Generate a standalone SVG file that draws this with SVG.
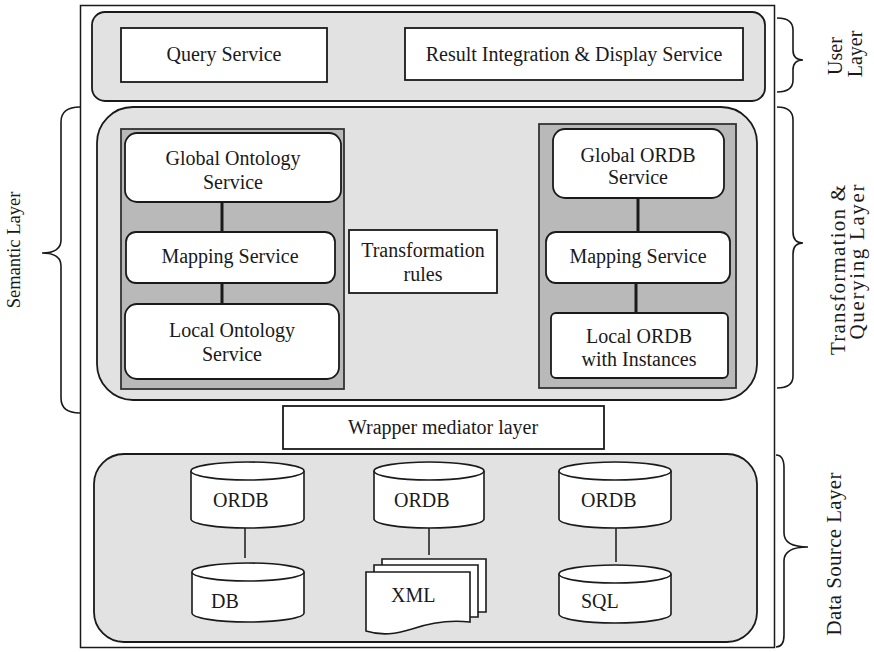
<svg xmlns="http://www.w3.org/2000/svg" width="874" height="652" viewBox="0 0 874 652">
  <style>
    text { font-family: "Liberation Serif", "Times New Roman", serif; font-size: 20px; fill: #1a1a1a; }
    .mid { text-anchor: middle; }
    .side { font-size: 21px; }
    .frame { fill: #ffffff; stroke: #1a1a1a; stroke-width: 1.5; }
    .layer { fill: #e2e2e2; stroke: #1a1a1a; stroke-width: 1.8; }
    .column { fill: #b9b9b9; stroke: #333333; stroke-width: 1.8; }
    .box { fill: #ffffff; stroke: #1a1a1a; stroke-width: 1.8; }
    .link { stroke: #1a1a1a; stroke-width: 3; fill: none; }
    .thin { stroke: #1a1a1a; stroke-width: 1.5; fill: none; }
    .brace { stroke: #1a1a1a; stroke-width: 1.6; fill: none; }
    .cyl { fill: #ffffff; stroke: #1a1a1a; stroke-width: 1.6; }
  </style>

  <rect width="874" height="652" fill="#ffffff"/>

  <!-- outer frame -->
  <rect class="frame" x="80.5" y="5.5" width="694" height="642"/>

  <!-- layer panels -->
  <rect class="layer" x="92" y="12" width="673" height="89" rx="13"/>
  <rect class="layer" x="97" y="107" width="660" height="293" rx="36"/>
  <rect class="layer" x="94" y="454" width="663" height="188" rx="30"/>

  <!-- service columns -->
  <rect class="column" x="121" y="129" width="223" height="260"/>
  <rect class="column" x="539" y="124" width="197" height="264"/>

  <!-- connectors -->
  <g id="connectors">
    <line class="link" x1="222" y1="202" x2="222" y2="232"/>
    <line class="link" x1="222" y1="283" x2="222" y2="305"/>
    <line class="link" x1="638" y1="198" x2="638" y2="232"/>
    <line class="link" x1="636" y1="283" x2="636" y2="313"/>
    <line class="thin" x1="245" y1="528" x2="245" y2="558"/>
    <line class="thin" x1="429" y1="528" x2="429" y2="555"/>
    <line class="thin" x1="616" y1="528" x2="616" y2="562"/>
  </g>

  <!-- user layer -->
  <g id="query-service">
    <rect class="box" x="121" y="28" width="206" height="54"/>
    <text class="mid" x="224" y="61">Query Service</text>
  </g>
  <g id="result-service">
    <rect class="box" x="405" y="28" width="338" height="52"/>
    <text class="mid" x="574" y="61">Result Integration &amp; Display Service</text>
  </g>

  <!-- ontology column -->
  <g id="global-ontology">
    <rect class="box" x="125" y="133" width="216" height="69" rx="12"/>
    <text class="mid" x="233" y="165">Global Ontology</text>
    <text class="mid" x="233" y="189">Service</text>
  </g>
  <g id="mapping-left">
    <rect class="box" x="126" y="232" width="209" height="51" rx="10"/>
    <text class="mid" x="230" y="263">Mapping Service</text>
  </g>
  <g id="local-ontology">
    <rect class="box" x="125" y="304" width="214" height="75" rx="12"/>
    <text class="mid" x="232" y="337">Local Ontology</text>
    <text class="mid" x="232" y="361">Service</text>
  </g>

  <g id="transformation-rules">
    <rect class="box" x="349" y="230" width="148" height="63"/>
    <text class="mid" x="423" y="257">Transformation</text>
    <text class="mid" x="423" y="281">rules</text>
  </g>

  <!-- ORDB column -->
  <g id="global-ordb">
    <rect class="box" x="553" y="129" width="171" height="69" rx="12"/>
    <text class="mid" x="638" y="162">Global ORDB</text>
    <text class="mid" x="638" y="184">Service</text>
  </g>
  <g id="mapping-right">
    <rect class="box" x="546" y="232" width="184" height="51" rx="10"/>
    <text class="mid" x="638" y="263">Mapping Service</text>
  </g>
  <g id="local-ordb">
    <rect class="box" x="551" y="313" width="177" height="65" rx="5"/>
    <text class="mid" x="639" y="343">Local ORDB</text>
    <text class="mid" x="639" y="366">with Instances</text>
  </g>

  <g id="wrapper">
    <rect class="box" x="283" y="406" width="321" height="43"/>
    <text class="mid" x="443" y="434">Wrapper mediator layer</text>
  </g>

  <!-- data sources -->
  <g id="ordb-1">
    <path class="cyl" d="M191,471 A56.5,9 0 0 1 304,471 V519 A56.5,9 0 0 1 191,519 Z"/>
    <path class="cyl" fill="none" d="M191,471 A56.5,9 0 0 0 304,471"/>
    <text x="213" y="507">ORDB</text>
  </g>
  <g id="db">
    <path class="cyl" d="M192,572 A56,9 0 0 1 304,572 V613 A56,9 0 0 1 192,613 Z"/>
    <path class="cyl" fill="none" d="M192,572 A56,9 0 0 0 304,572"/>
    <text x="211" y="608">DB</text>
  </g>
  <g id="ordb-2">
    <path class="cyl" d="M374,471 A55,9 0 0 1 484,471 V519 A55,9 0 0 1 374,519 Z"/>
    <path class="cyl" fill="none" d="M374,471 A55,9 0 0 0 484,471"/>
    <text x="394" y="507">ORDB</text>
  </g>
  <g id="xml">
    <path class="cyl" d="M382,559 H486 V612 H382 Z"/>
    <path class="cyl" d="M374,565 H478 V617 H374 Z"/>
    <path class="cyl" d="M366,572 H470 V622 C452,620 432,622 412,629 C396,634 382,636 366,631 Z"/>
    <text x="391" y="602">XML</text>
  </g>
  <g id="ordb-3">
    <path class="cyl" d="M559,471 A56,9 0 0 1 671,471 V519 A56,9 0 0 1 559,519 Z"/>
    <path class="cyl" fill="none" d="M559,471 A56,9 0 0 0 671,471"/>
    <text x="581" y="507">ORDB</text>
  </g>
  <g id="sql">
    <path class="cyl" d="M559,574 A56,9 0 0 1 671,574 V614 A56,9 0 0 1 559,614 Z"/>
    <path class="cyl" fill="none" d="M559,574 A56,9 0 0 0 671,574"/>
    <text x="581" y="608">SQL</text>
  </g>

  <!-- layer braces -->
  <g id="brace-semantic">
    <path class="brace" d="M80,107 Q61,107 61,122 V240 Q61,253 42,253 Q61,253 61,266 V398 Q61,413 80,413"/>
    <text class="mid" style="font-size:18.5px" transform="translate(20,250) rotate(-90)">Semantic Layer</text>
  </g>
  <g id="brace-user">
    <path class="brace" d="M777,18 Q793,18 793,30 V50 Q793,60 803,60 Q793,60 793,70 V80 Q793,92 777,92"/>
    <text class="mid" transform="translate(842,56) rotate(-90)">User</text>
    <text class="mid" transform="translate(862,54) rotate(-90)">Layer</text>
  </g>
  <g id="brace-transformation">
    <path class="brace" d="M777,107 Q793,107 793,120 V232 Q793,243 803,243 Q793,243 793,254 V376 Q793,388 777,388"/>
    <text class="mid side" transform="translate(845,270) rotate(-90)" textLength="170" lengthAdjust="spacing">Transformation &amp;</text>
    <text class="mid side" transform="translate(864,262) rotate(-90)" textLength="155" lengthAdjust="spacing">Querying Layer</text>
  </g>
  <g id="brace-data">
    <path class="brace" d="M776,455 Q784,455 784,468 V533 Q784,547 808,547 Q784,547 784,561 V635 Q784,647 776,647"/>
    <text class="mid side" transform="translate(841,554) rotate(-90)" textLength="163" lengthAdjust="spacing">Data Source Layer</text>
  </g>
</svg>
